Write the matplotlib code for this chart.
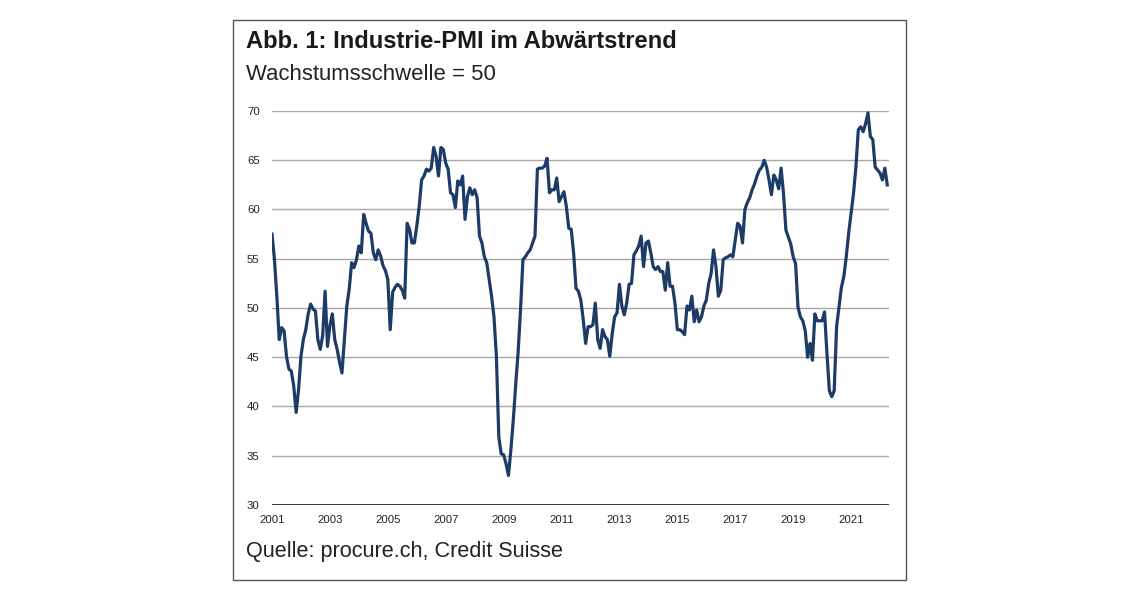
import matplotlib
matplotlib.use("Agg")
import matplotlib.pyplot as plt
from matplotlib.patches import Rectangle

# Monthly Swiss manufacturing PMI, Jan 2001 .. Apr 2022
start_year = 2001
pmi = [
    # 2001
    57.5, 55.0, 51.2, 46.8, 48.0, 47.7, 45.1, 43.8, 43.6, 42.1, 39.4, 41.7,
    # 2002
    45.1, 46.8, 47.8, 49.4, 50.4, 49.9, 49.7, 46.8, 45.8, 47.2, 51.7, 46.1,
    # 2003
    48.2, 49.4, 46.8, 45.8, 44.5, 43.4, 46.8, 50.2, 51.9, 54.6, 54.1, 54.9,
    # 2004
    56.3, 55.6, 59.5, 58.6, 57.8, 57.6, 55.6, 54.9, 55.9, 55.3, 54.3, 53.8,
    # 2005
    52.9, 47.8, 51.6, 52.1, 52.4, 52.2, 51.8, 51.0, 58.6, 58.0, 56.6, 56.6,
    # 2006
    58.3, 60.3, 63.0, 63.4, 64.1, 63.9, 64.2, 66.3, 65.4, 63.4, 66.3, 66.1,
    # 2007
    64.7, 64.1, 61.7, 61.5, 60.2, 62.9, 62.5, 63.4, 59.0, 61.3, 62.2, 61.5,
    # 2008
    62.0, 61.2, 57.3, 56.6, 55.2, 54.6, 52.9, 51.2, 49.1, 45.1, 36.9, 35.2,
    # 2009
    35.1, 34.2, 33.0, 35.6, 38.6, 42.2, 45.5, 49.8, 54.9, 55.2, 55.6, 55.9,
    # 2010
    56.6, 57.3, 64.1, 64.2, 64.2, 64.4, 65.2, 61.7, 62.0, 62.0, 63.2, 60.8,
    # 2011
    61.3, 61.8, 60.3, 58.1, 58.0, 55.6, 52.0, 51.7, 50.8, 48.8, 46.4, 48.1,
    # 2012
    48.1, 48.3, 50.5, 46.8, 45.9, 47.8, 47.1, 46.8, 45.1, 47.4, 49.1, 49.5,
    # 2013
    52.4, 50.2, 49.3, 50.5, 52.4, 52.5, 55.4, 55.8, 56.3, 57.3, 54.2, 56.6,
    # 2014
    56.8, 55.6, 54.2, 53.9, 54.2, 53.7, 53.7, 51.8, 54.6, 52.2, 52.2, 50.5,
    # 2015
    47.8, 47.8, 47.6, 47.3, 50.2, 49.8, 51.2, 48.6, 49.8, 48.6, 49.1, 50.2,
    # 2016
    50.8, 52.5, 53.5, 55.9, 54.2, 51.2, 51.8, 54.9, 55.1, 55.2, 55.4, 55.2,
    # 2017
    56.9, 58.6, 58.3, 56.6, 60.0, 60.7, 61.2, 62.0, 62.6, 63.4, 64.0, 64.3,
    # 2018
    65.0, 64.3, 63.0, 61.5, 63.5, 63.0, 62.1, 64.2, 61.6, 57.9, 57.2, 56.5,
    # 2019
    55.2, 54.5, 50.1, 49.1, 48.7, 47.7, 45.0, 46.4, 44.7, 49.4, 48.7, 48.7,
    # 2020
    48.7, 49.6, 45.4, 41.6, 41.0, 41.6, 48.1, 50.1, 52.1, 53.2, 55.2, 57.6,
    # 2021
    59.6, 61.6, 64.3, 68.1, 68.4, 67.9, 68.7, 69.8, 67.4, 67.1, 64.3, 64.0,
    # 2022
    63.7, 63.0, 64.2, 62.5,
]
dates = [start_year + i / 12 for i in range(len(pmi))]

x_ticks = list(range(2001, 2022, 2))
y_ticks = list(range(30, 71, 5))

title = "Abb. 1: Industrie-PMI im Abwärtstrend"
subtitle = "Wachstumsschwelle = 50"
source = "Quelle: procure.ch, Credit Suisse"

W, H = 1140, 596
fig = plt.figure(figsize=(W / 100, H / 100), dpi=100)
fig.patch.set_facecolor("white")

def fx(px):
    return px / W

def fy(py):
    return 1 - py / H

# outer frame
fig.patches.append(Rectangle((fx(233), fy(580)), fx(906) - fx(233), fy(20) - fy(580),
                             transform=fig.transFigure, fill=False,
                             edgecolor="#555555", linewidth=1.0))

ax = fig.add_axes([fx(272), fy(505), fx(889) - fx(272), fy(111) - fy(505)])
ax.plot(dates, pmi, color="#1c3b66", linewidth=2.3, solid_joinstyle="round", zorder=3)

ax.set_xlim(2001.0, 2022.31)
ax.set_ylim(30, 70)
ax.set_xticks(x_ticks)
ax.set_xticklabels([str(t) for t in x_ticks])
ax.set_yticks(y_ticks)
ax.set_yticklabels([str(t) for t in y_ticks], ha="left")

for v in y_ticks:
    ax.axhline(v, color="#222222" if v == 30 else "#a8a8a8",
               linewidth=1.3 if v == 30 else 1.0, zorder=1)

for s in ax.spines.values():
    s.set_visible(False)
fam = ["Liberation Sans", "DejaVu Sans"]
ax.tick_params(axis="both", length=0, labelsize=8.2, colors="#222222")
for lab in ax.get_xticklabels() + ax.get_yticklabels():
    lab.set_family(fam)
ax.tick_params(axis="y", pad=18)
ax.tick_params(axis="x", pad=7)

fig.text(fx(246), fy(41), title, fontsize=17.1, fontweight="bold", family=fam,
         color="#1a1a1a", va="center", ha="left")
fig.text(fx(246), fy(74), subtitle, fontsize=15.9, family=fam,
         color="#222222", va="center", ha="left")
fig.text(fx(246), fy(551), source, fontsize=15.6, family=fam,
         color="#222222", va="center", ha="left")

fig.savefig("out.png", dpi=100)
